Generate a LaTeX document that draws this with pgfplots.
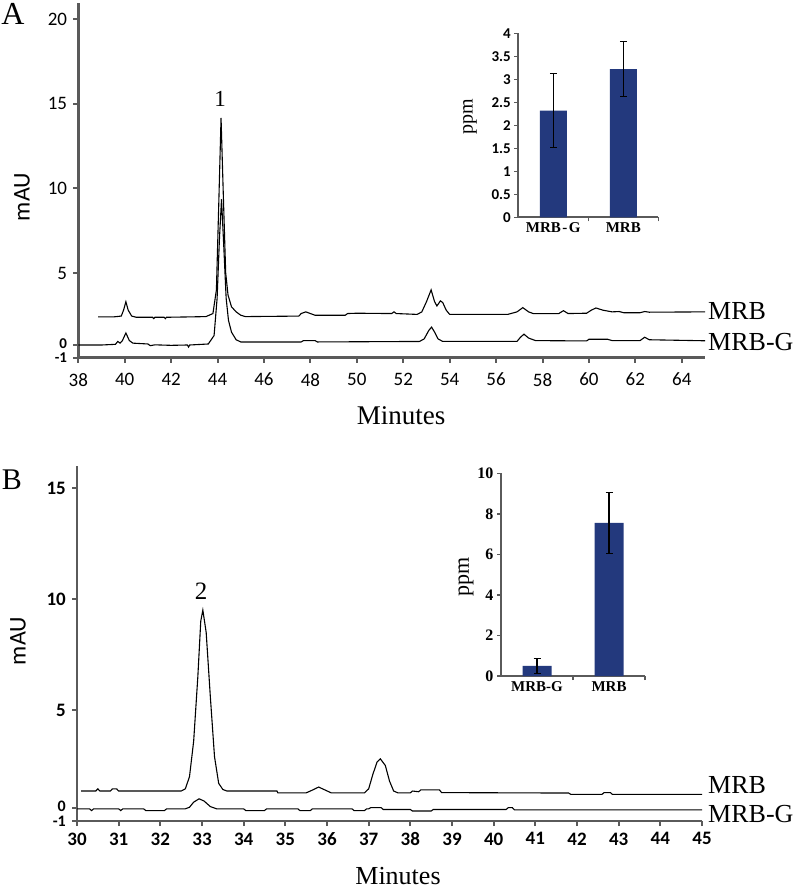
\documentclass[border=0pt]{standalone}
\usepackage{fontspec}
\setmainfont{Liberation Serif}
\newfontfamily\calibri{Carlito}
\usepackage{pgfplots}
\pgfplotsset{compat=1.18}
\definecolor{axgray}{RGB}{90,90,90}
\definecolor{barblue}{RGB}{35,57,125}
\newcommand{\fs}[1]{\fontsize{#1bp}{#1bp}\selectfont}

\begin{document}
\begin{tikzpicture}[x=1bp,y=1bp]
\useasboundingbox (0,0) rectangle (797,-890);

% ================= Panel A main =================
\begin{axis}[
  at={(78.3bp,-357.5bp)}, anchor=south west,
  scale only axis, width=626.7bp, height=355bp,
  xmin=38, xmax=65, ymin=0, ymax=21,
  axis x line*=bottom, axis y line*=left,
  axis line style={draw=axgray, line width=2.6bp},
  xtick={38,40,...,64},
  ytick={0,0.74,5,10,15,20},
  yticklabels={\raisebox{-4bp}{\fs{15}\textbf{-1}},\raisebox{3bp}{\fs{15}\textbf{0}},5,10,15,20},
  tick align=outside, major tick length=5bp,
  tick style={draw=axgray, line width=2bp},
  /pgf/number format/assume math mode=true,
  tick label style={font=\calibri\fs{19}},
  xticklabel style={yshift=-7bp},
  yticklabel style={xshift=-5bp, inner sep=1bp},
  clip=false,
]
% MRB
\addplot[black, line width=1.1bp] coordinates {
(38.85,2.40) (39.5,2.40) (39.85,2.45) (39.95,2.8) (40.05,3.3) (40.15,2.8) (40.3,2.45) (40.5,2.38)
(41.2,2.38) (41.25,2.3) (41.3,2.38) (41.7,2.38) (41.75,2.3) (41.8,2.38) (42.7,2.4) (43.5,2.42)
(43.8,2.6) (43.95,4.0) (44.05,9.0) (44.15,14.17) (44.25,9.5) (44.35,5.0) (44.45,3.7) (44.6,3.0)
(44.8,2.7) (45.0,2.5) (45.2,2.42) (47.5,2.45) (47.6,2.6) (47.8,2.7) (48.0,2.6) (48.2,2.5)
(49.5,2.5) (49.6,2.6) (50.0,2.62) (51.5,2.6) (51.6,2.7) (51.7,2.6) (52.6,2.55) (52.8,2.7)
(53.0,3.3) (53.2,4.0) (53.35,3.3) (53.45,3.05) (53.6,3.35) (53.7,3.25) (53.85,2.8) (54.0,2.55)
(56.5,2.55) (56.9,2.7) (57.15,2.95) (57.4,2.7) (57.6,2.6) (58.7,2.6) (58.9,2.77) (59.1,2.6)
(59.9,2.62) (60.1,2.8) (60.3,2.93) (60.6,2.8) (61.0,2.7) (61.3,2.72) (61.5,2.65) (62.2,2.65)
(62.4,2.72) (62.6,2.68) (65.0,2.7)};
% MRB-G
\addplot[black, line width=1.1bp] coordinates {
(38.0,0.74) (39.0,0.74) (39.6,0.78) (39.7,0.95) (39.8,0.85) (39.9,1.0) (40.05,1.45) (40.2,1.0)
(40.35,0.85) (41.0,0.8) (41.1,0.7) (41.3,0.75) (42.0,0.72) (42.7,0.74) (42.75,0.62) (42.8,0.74)
(43.6,0.8) (43.85,1.3) (43.98,3.5) (44.08,7.0) (44.17,9.36) (44.27,6.5) (44.37,3.5) (44.47,2.2)
(44.6,1.5) (44.8,1.05) (45.0,0.92) (47.6,0.92) (47.7,1.0) (48.2,1.0) (48.3,0.92) (52.7,0.95)
(52.9,1.1) (53.1,1.6) (53.22,1.8) (53.35,1.5) (53.5,1.1) (53.7,0.95) (56.9,0.95) (57.05,1.2)
(57.2,1.38) (57.4,1.15) (57.7,1.0) (59.9,0.98) (60.0,1.08) (60.8,1.08) (61.0,1.0) (62.2,1.0)
(62.4,1.2) (62.6,1.05) (65.0,0.99)};
\end{axis}

% ================= Panel A inset =================
\begin{axis}[
  at={(518.3bp,-217.3bp)}, anchor=south west,
  scale only axis, width=140bp, height=184bp,
  xmin=0.5, xmax=2.5, ymin=0, ymax=4,
  axis x line*=bottom, axis y line*=left,
  axis line style={draw=axgray, line width=2bp},
  ytick={0,0.5,...,4},
  yticklabels={0,0.5,1,1.5,2,2.5,3,3.5,4},
  yticklabel style={font=\calibri\bfseries\fs{15}},
  xtick={1.5,2.5}, xticklabels={,},
  extra x ticks={1,2},
  extra x tick labels={MRB\kern1.5pt-\kern1.5pt G, MRB},
  extra x tick style={major tick length=0pt, tick label style={font=\bfseries\fs{15}, yshift=-2bp}},
  tick align=outside, major tick length=4bp,
  tick style={draw=axgray, line width=1.5bp},
  clip=false,
]
\addplot[ybar, bar width=27bp, fill=barblue, draw=none,
  error bars/.cd, y dir=both, y explicit,
  error bar style={black, line width=1.2bp},
  error mark options={rotate=90, black, line width=1.2bp, mark size=3.5bp}]
  coordinates {(1,2.32) +- (0,0.8) (2,3.22) +- (0,0.6)};
\end{axis}

% ================= Panel B main =================
\begin{axis}[
  at={(77bp,-821bp)}, anchor=south west,
  scale only axis, width=625bp, height=355.2bp,
  xmin=30, xmax=45, ymin=0, ymax=16,
  axis x line*=bottom, axis y line*=left,
  axis line style={draw=axgray, line width=2.6bp},
  xtick={30,31,...,45},
  ytick={0,0.59,5,10,15},
  yticklabels={\raisebox{-4bp}{\fs{16}-1},\raisebox{3bp}{\fs{16}0},5,10,15},
  tick align=outside, major tick length=5bp,
  tick style={draw=axgray, line width=2bp},
  /pgf/number format/assume math mode=true,
  tick label style={font=\calibri\bfseries\fs{19}},
  xticklabel style={yshift=-3bp},
  yticklabel style={xshift=-5bp, inner sep=1bp},
  clip=false,
]
% MRB
\addplot[black, line width=1.1bp] coordinates {
(30.1,1.35) (30.45,1.35) (30.5,1.45) (30.55,1.35) (30.8,1.35) (30.85,1.45) (30.95,1.45) (31.0,1.35)
(32.5,1.35) (32.6,1.45) (32.7,2.0) (32.8,3.6) (32.9,6.5) (32.97,9.0) (33.02,9.5) (33.1,8.5)
(33.2,5.6) (33.3,2.9) (33.4,1.7) (33.5,1.42) (33.6,1.35) (34.8,1.35) (34.82,1.27) (35.5,1.27)
(35.6,1.35) (35.8,1.53) (35.95,1.4) (36.1,1.27) (36.9,1.27) (37.0,1.45) (37.1,2.1) (37.2,2.65)
(37.28,2.8) (37.4,2.5) (37.5,1.8) (37.6,1.35) (37.7,1.27) (38.0,1.27) (38.05,1.35) (38.2,1.32)
(38.25,1.4) (38.7,1.4) (38.75,1.28) (41.8,1.26) (41.85,1.2) (42.6,1.2) (42.65,1.28) (42.8,1.28)
(42.85,1.2) (45,1.2)};
% MRB-G
\addplot[black, line width=1.1bp] coordinates {
(30.0,0.55) (30.3,0.55) (30.35,0.47) (30.4,0.55) (31.0,0.55) (31.05,0.47) (31.1,0.55) (31.6,0.55)
(31.65,0.47) (32.1,0.47) (32.15,0.55) (32.6,0.55) (32.7,0.62) (32.8,0.85) (32.93,1.0) (33.05,0.9)
(33.2,0.65) (33.35,0.55) (34.0,0.55) (34.05,0.47) (34.5,0.47) (34.55,0.55) (35.3,0.55) (35.35,0.47)
(35.6,0.47) (35.65,0.55) (36.6,0.55) (36.65,0.47) (36.9,0.47) (36.95,0.55) (37.0,0.55) (37.05,0.6)
(37.3,0.6) (37.35,0.52) (38.0,0.52) (38.05,0.45) (38.5,0.45) (38.55,0.52) (40.3,0.52) (40.35,0.6)
(40.45,0.6) (40.5,0.5) (45.0,0.5)};
\end{axis}

% ================= Panel B inset =================
\begin{axis}[
  at={(501bp,-676bp)}, anchor=south west,
  scale only axis, width=144bp, height=202.7bp,
  xmin=0.5, xmax=2.5, ymin=0, ymax=10,
  axis x line*=bottom, axis y line*=left,
  axis line style={draw=axgray, line width=2bp},
  ytick={0,2,...,10},
  yticklabels={0,2,4,6,8,10},
  yticklabel style={font=\bfseries\fs{16}},
  xtick={1.5,2.5}, xticklabels={,},
  extra x ticks={1,2},
  extra x tick labels={MRB-G, MRB},
  extra x tick style={major tick length=0pt, tick label style={font=\bfseries\fs{15}, yshift=-2bp}},
  tick align=outside, major tick length=4bp,
  tick style={draw=axgray, line width=1.5bp},
  clip=false,
]
\addplot[ybar, bar width=29bp, fill=barblue, draw=none,
  error bars/.cd, y dir=both, y explicit,
  error bar style={black, line width=1.2bp},
  error mark options={rotate=90, black, line width=1.2bp, mark size=3.5bp}]
  coordinates {(1,0.5) +- (0,0.37) (2,7.55) +- (0,1.5)};
\end{axis}

% ================= Text =================
\node[font=\fs{32}] at (13,-14) {A};
\node[font=\fs{30}] at (12,-480) {B};
\node[font=\fs{23}] at (220,-99) {1};
\node[font=\fs{25}] at (201,-591) {2};
\node[font=\fs{27}, anchor=base, inner sep=0pt] at (401,-424) {Minutes};
\node[font=\fs{26}, anchor=base, inner sep=0pt] at (398,-884) {Minutes};
\node[font=\calibri\fs{24}, rotate=90] at (22,-197) {mAU};
\node[font=\calibri\fs{24}, rotate=90] at (18,-641) {mAU};
\node[font=\fs{26}, anchor=west, inner sep=0pt] at (708,-311) {MRB};
\node[font=\fs{26}, anchor=west, inner sep=0pt] at (708,-342) {MRB-G};
\node[font=\fs{26}, anchor=west, inner sep=0pt] at (708,-785) {MRB};
\node[font=\fs{26}, anchor=west, inner sep=0pt] at (708,-814) {MRB-G};
\node[font=\fs{20}, rotate=90] at (470,-117) {ppm};
\node[font=\fs{22}, rotate=90] at (466,-577) {ppm};
\end{tikzpicture}
\end{document}
